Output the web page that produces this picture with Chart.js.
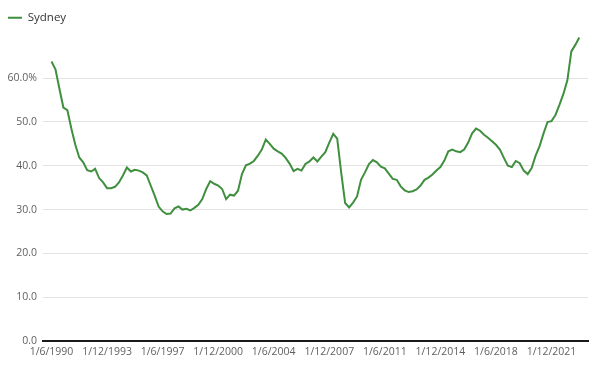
<!DOCTYPE html>
<html>
<head>
<meta charset="utf-8">
<script src="https://cdn.jsdelivr.net/npm/chart.js@4/dist/chart.umd.min.js"></script>
<style>
  html, body { margin: 0; padding: 0; background: #ffffff; }
  #wrap { width: 600px; height: 371px; position: relative; }
</style>
</head>
<body>
<div id="wrap"><canvas id="c" width="600" height="371"></canvas></div>
<script>
// Quarterly series starting 1/6/1990 (index 0), one value per quarter
const seriesName = 'Sydney';
const sydneyValues = [
  63.8, 62.0, 57.6, 53.3, 52.7, 48.5, 44.8, 41.9, 40.8, 39.0,
  38.7, 39.3, 37.2, 36.2, 34.9, 34.9, 35.2, 36.2, 37.8, 39.6,
  38.7, 39.1, 38.9, 38.5, 37.8, 35.5, 33.2, 30.7, 29.6, 29.0,
  29.1, 30.3, 30.7, 30.0, 30.2, 29.8, 30.4, 31.1, 32.4, 34.7,
  36.5, 35.9, 35.5, 34.7, 32.4, 33.4, 33.2, 34.3, 38.1, 40.1,
  40.5, 41.1, 42.3, 43.7, 46.0, 45.0, 43.9, 43.3, 42.8, 41.8,
  40.5, 38.8, 39.3, 38.9, 40.4, 41.0, 41.9, 41.0, 42.1, 43.1,
  45.3, 47.3, 46.2, 38.5, 31.5, 30.5, 31.6, 33.0, 36.8, 38.5,
  40.4, 41.3, 40.8, 39.8, 39.4, 38.2, 37.0, 36.8, 35.3, 34.4,
  34.0, 34.2, 34.6, 35.5, 36.8, 37.3, 38.0, 38.9, 39.7, 41.2,
  43.3, 43.7, 43.3, 43.1, 43.7, 45.3, 47.4, 48.5, 48.0, 47.1,
  46.4, 45.6, 44.8, 43.7, 41.8, 40.0, 39.7, 41.1, 40.6, 38.9,
  38.1, 39.5, 42.3, 44.5, 47.4, 50.0, 50.2, 51.6, 53.9, 56.4,
  59.5, 66.1, 67.6, 69.3
];
// x tick labels and the quarter index each one sits at
const xTickLabels = ['1/6/1990', '1/12/1993', '1/6/1997', '1/12/2000', '1/6/2004',
                     '1/12/2007', '1/6/2011', '1/12/2014', '1/6/2018', '1/12/2021'];
const xTickIndex = [0, 14, 28, 42, 56, 70, 84, 98, 112, 126];
// y tick values and labels
const yTickValues = [0, 10, 20, 30, 40, 50, 60];
const yTickLabels = ['0.0', '10.0', '20.0', '30.0', '40.0', '50.0', '60.0%'];

const GREEN = '#3f8f3f';
const FONT = '"Open Sans", "DejaVu Sans", sans-serif';

const points = sydneyValues.map((v, i) => ({ x: i, y: v }));

new Chart(document.getElementById('c'), {
  type: 'line',
  data: {
    datasets: [{
      label: seriesName,
      data: points,
      borderColor: GREEN,
      backgroundColor: GREEN,
      borderWidth: 2,
      pointRadius: 0,
      pointHoverRadius: 0,
      tension: 0,
      fill: false
    }]
  },
  options: {
    responsive: false,
    animation: false,
    devicePixelRatio: 1,
    layout: { padding: { left: 0, right: 12, top: 4, bottom: 0 } },
    plugins: {
      tooltip: { enabled: false },
      legend: {
        display: true,
        position: 'top',
        align: 'start',
        labels: {
          usePointStyle: true,
          pointStyle: 'line',
          pointStyleWidth: 14,
          boxHeight: 12,
          padding: 8,
          color: '#333333',
          font: { family: FONT, size: 11.5 }
        }
      }
    },
    scales: {
      x: {
        type: 'linear',
        min: -2.14,
        max: 135.2,
        afterBuildTicks: (scale) => {
          scale.ticks = xTickIndex.map(v => ({ value: v }));
        },
        afterFit: (scale) => { scale.height = 30; },
        ticks: {
          autoSkip: false,
          maxRotation: 0,
          minRotation: 0,
          padding: 5,
          color: '#5f5f5f',
          font: { family: FONT, size: 10.5 },
          callback: (value) => {
            const k = xTickIndex.indexOf(value);
            return k >= 0 ? xTickLabels[k] : '';
          }
        },
        grid: { display: false, drawTicks: false },
        border: { display: true, color: '#1a1a1a', width: 2 }
      },
      y: {
        type: 'linear',
        min: 0,
        max: 70.2,
        afterBuildTicks: (scale) => {
          scale.ticks = yTickValues.map(v => ({ value: v }));
        },
        afterFit: (scale) => { scale.width = 43; },
        ticks: {
          padding: 6,
          color: '#5f5f5f',
          font: { family: FONT, size: 10.5 },
          callback: (value) => {
            const k = yTickValues.indexOf(value);
            return k >= 0 ? yTickLabels[k] : '';
          }
        },
        grid: {
          drawTicks: false,
          color: (ctx) => (ctx.tick && ctx.tick.value === 0) ? 'rgba(0,0,0,0)' : '#e3e3e3',
          lineWidth: 1
        },
        border: { display: false }
      }
    }
  }
});
</script>
</body>
</html>
